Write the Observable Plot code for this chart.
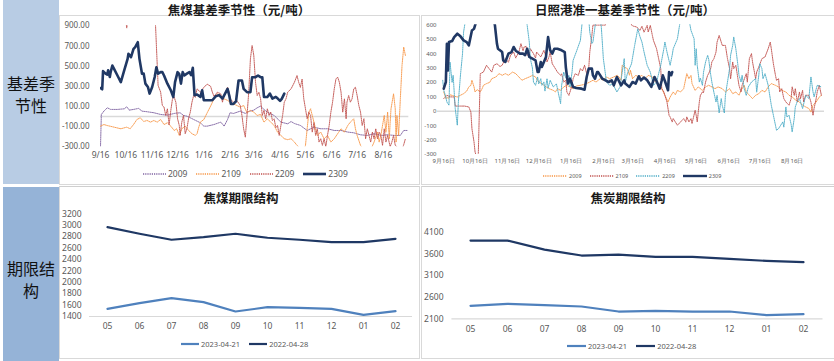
<!DOCTYPE html>
<html><head><meta charset="utf-8">
<script src="https://cdn.jsdelivr.net/npm/d3@7"></script>
<script src="https://cdn.jsdelivr.net/npm/@observablehq/plot@0.6"></script>
<style>
body{margin:0;width:834px;height:361px;position:relative;background:#fff;overflow:hidden;font-family:"Noto Sans","Noto Sans CJK SC",sans-serif;}
.side{position:absolute;left:3px;width:56px;text-align:center;font-family:"Noto Sans CJK SC";font-size:16px;line-height:22px;color:#111;}
.sidetxt{position:absolute;left:0;width:56px;text-align:center;}
.title{position:absolute;font-family:"Noto Sans CJK SC";font-weight:bold;font-size:12.5px;color:#1a1a1a;transform:translateX(-50%);white-space:nowrap;line-height:normal}
.legend{position:absolute;display:flex;align-items:center;color:#595959;white-space:nowrap;font-family:"Noto Sans",sans-serif}
.box{position:absolute;border:1px solid #d9d9d9;box-sizing:border-box}
.chart{position:absolute}
</style></head>
<body>
<div class="side" style="top:0;height:184px;background:#b8cce4"><div class="sidetxt" style="top:72px">基差季<br>节性</div></div>
<div class="side" style="top:187px;height:174px;background:#95b3d7"><div class="sidetxt" style="top:70px">期限结<br>构</div></div>
<div class="box" style="left:59px;top:15px;width:361px;height:170px"></div>
<div class="box" style="left:421px;top:15px;width:414px;height:170px"></div>
<div class="box" style="left:59px;top:186px;width:361px;height:173px;border-top-color:#cfcfcf"></div>
<div class="box" style="left:421px;top:186px;width:414px;height:173px;border-top-color:#cfcfcf"></div>
<div class="title" style="left:239px;top:0px">焦煤基差季节性（元/吨）</div>
<div class="title" style="left:625px;top:0px">日照港准一基差季节性（元/吨）</div>
<div class="title" style="left:241px;top:188px">焦煤期限结构</div>
<div class="title" style="left:628px;top:188px">焦炭期限结构</div>
<div id="c1" class="chart" style="left:60px;top:15px"></div>
<div id="c2" class="chart" style="left:422px;top:15px"></div>
<div id="c3" class="chart" style="left:60px;top:204px"></div>
<div id="c4" class="chart" style="left:422px;top:210px"></div>
<div id="l1" class="legend" style="left:143px;top:167px;height:13px"></div>
<div id="l2" class="legend" style="left:543px;top:170px;height:12px"></div>
<div id="l3" class="legend" style="left:181px;top:338px;height:12px"></div>
<div id="l4" class="legend" style="left:567px;top:340px;height:12px"></div>
<script>
// ---- tick labels / categories ----
const dayTicks = [0,30,61,91,122,153,181,212,242,273,303,334];
const tickLabelsL = ["9/16","10/16","11/16","12/16","1/16","2/16","3/16","4/16","5/16","6/16","7/16","8/16"];
const tickLabelsR = ["9月16日","10月16日","11月16日","12月16日","1月16日","2月16日","3月16日","4月16日","5月16日","6月16日","7月16日","8月16日"];
const yTicksL = [-300,-100,100,300,500,700,900];
const yTicksR = [-300,-200,-100,0,100,200,300,400,500,600];
const seriesNames = ["2009","2109","2209","2309"];
const months = ["05","06","07","08","09","10","11","12","01","02"];
const dateNames = ["2023-04-21","2022-04-28"];

// ---- 焦煤基差季节性 [day since 9/16, value] ----
const coal2009 = [[0,-300],[1,20],[4,53],[8,86],[12,70],[20,70],[28,76],[31,96],[34,63],[39,70],[45,80],[49,53],[55,47],[63,37],[71,20],[79,13],[87,30],[94,37],[98,10],[102,3],[106,-13],[110,-30],[118,-63],[122,-96],[126,-96],[134,-80],[142,-56],[146,-96],[150,-30],[153,37],[157,30],[165,53],[171,30],[175,50],[181,63],[185,86],[189,103],[193,70],[197,43],[205,10],[213,-56],[221,-73],[225,-50],[229,-70],[236,-89],[244,-139],[252,-106],[260,-122],[268,-122],[276,-139],[284,-139],[292,-155],[299,-162],[307,-182],[315,-188],[323,-171],[331,-188],[339,-182],[347,-188],[354,-188],[358,-139],[362,-139]];
const coal2109 = [[0,-96],[4,-80],[8,-90],[16,-106],[24,-122],[31,-106],[35,-122],[39,-80],[43,-30],[47,-13],[51,-50],[55,-40],[59,-56],[63,-40],[67,-56],[71,-30],[75,-80],[79,-63],[83,-96],[87,-139],[90,-122],[93,-188],[96,-122],[100,-96],[104,-139],[108,-171],[112,-188],[114,-171],[116,-106],[118,-56],[122,-30],[126,37],[130,103],[134,175],[138,225],[142,208],[146,175],[150,160],[153,142],[157,125],[161,109],[165,93],[169,109],[173,37],[177,60],[181,43],[185,10],[189,20],[193,-56],[197,-23],[201,-56],[205,-89],[209,-155],[213,-188],[217,-221],[221,-230],[225,-221],[229,-254],[232,-287],[236,-320],[240,-340],[242,-287],[244,-122],[246,43],[248,76],[250,10],[252,-56],[254,-122],[256,-188],[260,-155],[264,-221],[268,-188],[272,-254],[276,-221],[280,-171],[284,-122],[288,-155],[292,-89],[295,-56],[299,-23],[301,-122],[303,-188],[307,-287],[311,-330],[319,-330],[323,-254],[327,-155],[329,-254],[331,-188],[335,10],[337,-155],[339,43],[341,-221],[342,-56],[343,76],[346,225],[348,76],[349,-254],[350,10],[352,-188],[354,175],[356,506],[358,688],[360,605]];
const coal2209 = [[29,1000],[31,880],[33,1000],[34,null],[64,950],[65,900],[67,506],[68,308],[71,242],[73,109],[75,93],[77,10],[79,76],[81,-83],[83,60],[85,175],[87,192],[89,140],[91,-23],[93,-89],[94,-188],[96,-56],[98,10],[100,-171],[102,-122],[104,-20],[106,43],[108,142],[110,208],[112,190],[114,274],[118,241],[122,290],[126,320],[130,300],[132,242],[134,200],[138,241],[142,225],[144,142],[146,208],[148,250],[150,290],[152,240],[153,175],[157,142],[161,158],[165,109],[167,10],[169,-122],[171,-205],[173,10],[175,241],[177,572],[179,704],[181,605],[183,341],[185,208],[187,240],[189,175],[191,10],[193,60],[195,-23],[197,76],[199,10],[201,43],[203,-40],[205,-23],[207,-110],[209,-89],[211,-188],[213,-89],[215,10],[217,142],[219,175],[221,241],[225,274],[229,340],[232,406],[234,340],[236,290],[238,370],[240,175],[242,76],[244,-23],[246,43],[248,10],[250,-155],[252,-60],[254,-188],[256,-122],[258,-254],[260,-221],[262,-287],[264,-221],[266,-300],[268,-188],[270,-89],[272,43],[274,142],[276,274],[278,373],[280,390],[282,340],[284,241],[286,43],[288,175],[290,-23],[291,142],[293,208],[295,142],[297,175],[299,274],[301,290],[303,208],[305,109],[307,43],[309,-89],[311,-23],[313,-221],[315,-122],[317,-188],[319,-254],[321,-155],[323,-221],[325,-122],[327,-221],[329,-155],[331,-188],[333,-287],[335,-122],[337,-254],[339,-188],[342,-300],[344,-254],[346,-188],[348,-287],[350,-300],[352,-320],[356,-330],[358,-280],[360,-221]];
const coal2309 = [[0,282],[2,270],[3,450],[6,425],[8,415],[9,458],[11,392],[12,440],[14,506],[16,473],[20,407],[24,341],[28,458],[32,572],[33,622],[36,589],[39,671],[41,688],[44,737],[46,572],[49,425],[51,425],[53,326],[56,293],[58,227],[61,293],[64,392],[66,489],[68,425],[71,440],[73,440],[75,407],[79,326],[83,260],[86,194],[88,341],[91,440],[93,420],[95,326],[97,440],[99,407],[102,425],[105,440],[107,410],[109,483],[111,212],[114,218],[118,194],[120,260],[122,161],[126,161],[132,161],[136,200],[140,212],[144,178],[148,241],[150,274],[152,208],[154,125],[157,125],[160,150],[163,357],[167,357],[169,274],[173,241],[177,241],[179,390],[183,390],[186,407],[189,390],[191,390],[193,194],[197,194],[200,227],[203,178],[207,194],[209,180],[212,155],[214,175],[217,227]];

// ---- 日照港准一基差季节性 [day since 9/16, value] ----
const coke2009 = [[0,134],[2,88],[3,95],[5,90],[6,115],[10,105],[13,99],[16,111],[19,122],[22,140],[24,169],[26,180],[27,215],[29,169],[30,134],[32,150],[35,134],[37,160],[38,180],[41,192],[44,200],[46,226],[50,238],[53,261],[56,250],[59,261],[62,250],[66,272],[69,261],[72,238],[75,215],[78,226],[82,238],[85,249],[88,238],[91,203],[94,192],[98,169],[101,157],[105,145],[107,134],[109,157],[112,145],[115,169],[118,180],[121,169],[124,157],[127,175],[131,180],[134,185],[137,192],[140,203],[143,215],[146,203],[150,226],[153,215],[156,238],[159,226],[163,238],[166,249],[168,238],[170,215],[171,319],[173,307],[176,296],[178,250],[179,284],[181,226],[184,249],[187,238],[190,249],[193,226],[196,249],[200,238],[203,203],[206,192],[209,157],[212,111],[215,64],[217,99],[220,134],[222,115],[224,145],[227,134],[230,157],[233,261],[235,226],[237,249],[238,192],[241,145],[244,169],[248,145],[251,169],[254,180],[257,169],[260,157],[263,169],[267,157],[270,134],[274,157],[277,122],[280,134],[283,111],[285,145],[288,180],[290,134],[293,111],[296,88],[299,111],[302,122],[305,145],[308,134],[311,169],[314,192],[318,180],[321,169],[324,145],[328,134],[331,111],[334,99],[337,80],[341,64],[344,42],[347,30],[350,19],[352,-5],[354,42],[357,64],[360,99],[362,111]];
const coke2109 = [[0,88],[3,111],[6,100],[10,99],[11,36],[16,36],[20,36],[24,30],[26,-5],[27,-120],[29,-212],[30,-282],[32,-330],[33,-330],[35,261],[38,272],[41,319],[43,300],[46,272],[48,319],[51,330],[54,310],[56,320],[59,365],[62,340],[64,388],[67,411],[69,370],[72,411],[74,469],[76,420],[77,446],[79,450],[80,388],[82,400],[83,434],[86,400],[88,370],[89,411],[93,377],[96,423],[98,380],[99,342],[101,380],[102,411],[104,330],[105,319],[109,272],[112,249],[113,260],[115,203],[117,215],[118,134],[120,110],[123,180],[124,226],[126,260],[129,249],[131,296],[133,280],[135,319],[137,261],[139,300],[140,411],[142,526],[143,598],[155,598],[156,650],[179,650],[180,598],[182,590],[185,585],[188,561],[190,590],[192,549],[195,596],[196,550],[198,596],[200,526],[201,492],[204,434],[206,365],[208,296],[209,157],[211,134],[212,110],[214,64],[216,-28],[217,-39],[219,-74],[220,-51],[222,-74],[224,-97],[227,-74],[230,-51],[232,-74],[233,-39],[235,-74],[237,-51],[238,-85],[241,7],[242,-28],[243,-74],[245,64],[246,110],[248,134],[249,130],[251,203],[253,250],[254,261],[256,300],[257,342],[259,365],[261,411],[262,480],[264,526],[266,480],[267,457],[270,457],[272,365],[274,296],[275,226],[277,342],[278,296],[280,319],[282,226],[283,180],[285,134],[286,180],[290,261],[291,203],[293,365],[295,400],[296,342],[299,226],[300,272],[302,307],[305,365],[308,377],[311,434],[313,480],[314,434],[316,330],[318,249],[319,215],[321,226],[322,134],[324,157],[326,88],[328,64],[331,42],[333,88],[334,169],[336,110],[337,157],[339,64],[341,134],[342,88],[344,145],[345,64],[347,111],[350,111],[352,64],[354,-28],[355,19],[357,88],[358,134],[360,180],[362,111]];
const coke2209 = [[-1,215],[0,146],[2,99],[3,64],[5,42],[6,341],[8,200],[9,250],[11,19],[13,-97],[14,64],[16,249],[18,400],[19,549],[21,640],[79,640],[80,595],[82,480],[83,365],[85,300],[86,203],[88,180],[90,238],[91,190],[93,226],[94,180],[96,203],[97,140],[99,226],[100,160],[102,215],[105,169],[108,190],[112,53],[113,180],[115,272],[116,249],[118,220],[120,249],[121,169],[123,272],[124,353],[127,411],[131,492],[133,640],[139,640],[140,549],[142,470],[143,480],[146,640],[150,640],[151,590],[153,365],[156,203],[159,180],[162,190],[166,134],[169,169],[173,365],[174,200],[176,261],[180,330],[183,457],[186,572],[188,520],[190,480],[192,411],[195,319],[198,272],[201,180],[204,203],[208,319],[211,434],[212,480],[214,411],[216,350],[217,319],[219,390],[220,434],[224,503],[227,640],[235,640],[237,561],[240,503],[241,319],[242,434],[243,319],[245,203],[246,230],[248,180],[249,270],[251,342],[253,388],[254,360],[256,249],[257,203],[259,130],[261,64],[262,110],[264,-12],[266,88],[267,40],[269,-12],[270,110],[272,203],[274,296],[275,390],[277,457],[278,515],[280,434],[282,319],[283,250],[285,203],[286,250],[288,157],[290,110],[292,169],[295,203],[299,226],[300,134],[302,249],[303,330],[305,296],[306,226],[308,261],[311,180],[313,88],[314,42],[316,-28],[318,-97],[319,-132],[321,-120],[325,-74],[326,-110],[328,30],[329,-40],[331,-28],[333,-90],[334,-143],[336,-50],[337,30],[339,70],[341,88],[344,19],[347,111],[350,88],[352,238],[354,134],[355,100],[358,180],[362,169]];
const coke2309 = [[0,157],[2,203],[3,468],[4,284],[5,480],[8,487],[10,515],[13,538],[16,520],[19,492],[22,480],[24,457],[26,526],[27,561],[29,572],[31,620],[33,650],[47,650],[49,600],[51,468],[52,434],[56,411],[57,353],[59,342],[62,400],[65,411],[67,446],[69,420],[73,400],[76,400],[78,390],[80,434],[82,377],[85,365],[88,353],[90,272],[91,272],[93,342],[94,307],[98,377],[100,515],[102,423],[104,400],[106,434],[109,434],[113,423],[116,411],[117,307],[119,192],[121,226],[124,169],[127,162],[132,157],[135,150],[137,238],[139,296],[142,296],[143,249],[145,226],[147,272],[148,272],[150,249],[152,226],[155,215],[158,203],[161,215],[163,180],[166,238],[170,180],[173,215],[174,192],[178,169],[181,203],[184,192],[187,243],[189,215],[192,234],[195,215],[199,169],[202,238],[204,210],[207,157],[209,215],[210,249],[212,210],[215,146],[216,272],[218,250],[219,272]];

// ---- 期限结构 ----
const coalF20230421 = [1535,1633,1721,1651,1488,1563,1551,1535,1429,1493];
const coalF20220428 = [2966,2850,2745,2790,2850,2780,2745,2703,2703,2762];
const cokeF20230421 = [2400,2446,2415,2384,2268,2284,2268,2268,2184,2207];
const cokeF20220428 = [3907,3907,3699,3561,3584,3530,3530,3484,3438,3407];

const gray = "#595959";
const font = "'Noto Sans', 'Liberation Sans', sans-serif";
const navy = "#203864";
const colL = ["#8064a2","#f79646","#c0504d",navy];
const colR = ["#f79646","#c0504d","#4bacc6",navy];
const colF = ["#4f81bd","#1f3864"];

function lineMarks(seriesList, colors) {
  return seriesList.map((s, i) => Plot.line(s, {
    x: d => d[0], y: d => d[1], stroke: colors[i], clip: true,
    strokeWidth: i === 3 ? 2.6 : 1,
    strokeOpacity: i === 3 ? 1 : 0.9,
    strokeDasharray: i === 3 ? null : "1.2,1",
    strokeLinejoin: "round"
  }));
}

const c1 = Plot.plot({
  width: 358, height: 150, marginTop: 10.3, marginBottom: 18.8, marginLeft: 40, marginRight: 9.7,
  style: {fontFamily: font, background: "transparent", overflow: "visible"},
  x: {domain: [0, 364]}, y: {domain: [-300, 900]},
  marks: [
    Plot.ruleY([0], {stroke: "#d9d9d9", strokeWidth: 1.5}),
    Plot.axisX(dayTicks, {tickSize: 0, tickPadding: 5, fontSize: 8.5, fill: gray, label: null,
      tickFormat: d => tickLabelsL[dayTicks.indexOf(d)]}),
    Plot.axisY(yTicksL, {tickSize: 0, tickPadding: 11, fontSize: 8, fill: gray, label: null,
      tickFormat: d => d.toFixed(2)}),
    ...lineMarks([coal2009, coal2109, coal2209, coal2309], colL)
  ]
});
document.getElementById("c1").append(c1);

const c2 = Plot.plot({
  width: 412, height: 155, marginTop: 9.3, marginBottom: 16, marginLeft: 15, marginRight: 10,
  style: {fontFamily: font, background: "transparent", overflow: "visible"},
  x: {domain: [-6, 365]}, y: {domain: [-300, 600]},
  marks: [
    Plot.ruleY([0], {stroke: "#d9d9d9", strokeWidth: 1.5}),
    Plot.axisX(dayTicks, {tickSize: 0, tickPadding: 4, fontSize: 6, fill: gray, label: null,
      tickFormat: d => tickLabelsR[dayTicks.indexOf(d)]}),
    Plot.axisY(yTicksR, {tickSize: 0, tickPadding: 1, fontSize: 6, fill: gray, label: null,
      tickFormat: d => String(d)}),
    ...lineMarks([coke2009, coke2109, coke2209, coke2309], colR)
  ]
});
document.getElementById("c2").append(c2);

function termPlot(vals, opts) {
  const rows = [];
  vals.forEach((arr, k) => arr.forEach((v, i) => rows.push({m: months[i], v, s: dateNames[k]})));
  return Plot.plot({
    width: opts.width, height: opts.height, marginTop: opts.mt, marginBottom: opts.mb,
    marginLeft: opts.ml, marginRight: opts.mr,
    style: {fontFamily: font, background: "transparent", overflow: "visible"},
    x: {type: "point", domain: months, padding: 0.5},
    y: {domain: opts.domain},
    marks: [
      Plot.ruleY([opts.domain[0]], {stroke: "#d9d9d9", strokeWidth: 1.2}),
      Plot.axisX({tickSize: 0, tickPadding: opts.xpad, fontSize: 8.5, fill: gray, label: null}),
      Plot.axisY(opts.ticks, {tickSize: 0, tickPadding: opts.ypad, fontSize: 8.5, fill: gray, label: null, tickFormat: d => String(d)}),
      Plot.line(rows, {x: "m", y: "v", z: "s", stroke: d => d.s === dateNames[0] ? colF[0] : colF[1], strokeWidth: 2.2})
    ]
  });
}
document.getElementById("c3").append(termPlot([coalF20230421, coalF20220428], {
  width: 358, height: 140, mt: 9.3, mb: 28, ml: 29, mr: 6, domain: [1400, 3200],
  ticks: d3.range(1400, 3201, 200), xpad: 6, ypad: 8
}));
document.getElementById("c4").append(termPlot([cokeF20230421, cokeF20220428], {
  width: 412, height: 130, mt: 21.7, mb: 21.7, ml: 29.4, mr: 11.5, domain: [2100, 4100],
  ticks: [2100, 2600, 3100, 3600, 4100], xpad: 6.7, ypad: 8.4
}));

function legend(id, names, colors, dashed, sw, fs, gap, lw) {
  const el = document.getElementById(id);
  names.forEach((n, i) => {
    const item = document.createElement("span");
    item.style.cssText = `display:inline-flex;align-items:center;margin-right:${gap}px;font-size:${fs}px;`;
    const d = dashed(i);
    item.innerHTML = `<svg width="${sw}" height="6" style="margin-right:2px"><line x1="0" x2="${sw}" y1="3" y2="3" stroke="${colors[i]}" stroke-width="${lw(i)}" ${d ? 'stroke-dasharray="1.2,1"' : ''}/></svg><span>${n}</span>`;
    el.append(item);
  });
}
legend("l1", seriesNames, colL, i => i !== 3, 23, 8.5, 9, i => i === 3 ? 2.6 : 1.4);
legend("l2", seriesNames, colR, i => i !== 3, 24, 5.5, 8, i => i === 3 ? 2.4 : 1.3);
legend("l3", dateNames, colF, () => false, 18, 7.5, 9, () => 2.2);
legend("l4", dateNames, colF, () => false, 19, 7.5, 9, () => 2.2);
</script>
</body></html>
